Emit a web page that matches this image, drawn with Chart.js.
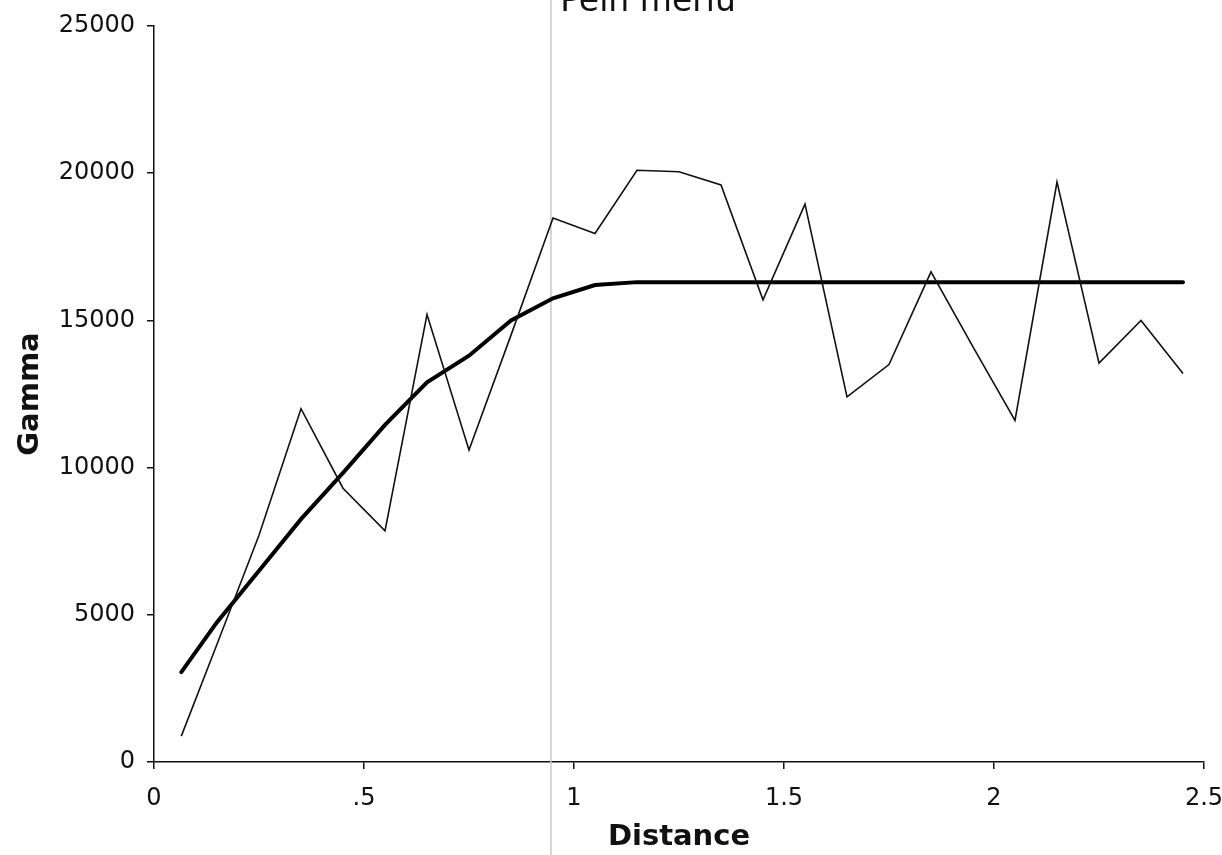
<!DOCTYPE html>
<html>
<head>
<meta charset="utf-8">
<script src="https://cdn.jsdelivr.net/npm/chart.js@4.4.1/dist/chart.umd.min.js"></script>
<style>
  html, body { margin: 0; padding: 0; background: #fff; }
  #wrap { width: 1222px; height: 855px; }
</style>
</head>
<body>
<div id="wrap"><canvas id="gammaChart"></canvas></div>
<script>
// lag distances of the experimental variogram
const distances = [0.065, 0.15, 0.25, 0.35, 0.45, 0.55, 0.65, 0.75, 0.85, 0.95,
    1.05, 1.15, 1.25, 1.35, 1.45, 1.55, 1.65, 1.75, 1.85, 1.95,
    2.05, 2.15, 2.25, 2.35, 2.45];

// experimental gamma values
const gammaObserved = [880, 4000, 7700, 12000, 9300, 7850, 15200, 10600, 14500, 18480,
    17950, 20100, 20050, 19600, 15700, 18950, 12400, 13500, 16650, 14100,
    11600, 19700, 13550, 15000, 13200];

// fitted model
const gammaModel = [3050, 4750, 6500, 8250, 9820, 11450, 12900, 13800, 15000, 15750,
    16200, 16300, 16300, 16300, 16300, 16300, 16300, 16300, 16300, 16300,
    16300, 16300, 16300, 16300, 16300];

const xTicks = [0, 0.5, 1, 1.5, 2, 2.5];
const yTicks = [0, 5000, 10000, 15000, 20000, 25000];
const titleText = 'Pelh meriu';
const markerDistance = 0.945;

const toPoints = (vals) => distances.map((d, i) => ({ x: d, y: vals[i] }));

// vertical marker line and the title at the top edge
const extras = {
    id: 'extras',
    beforeDatasetsDraw(chart) {
        const ctx = chart.ctx;
        const x = chart.scales.x.getPixelForValue(markerDistance);
        ctx.save();
        ctx.strokeStyle = '#c8c8c8';
        ctx.lineWidth = 1.5;
        ctx.beginPath();
        ctx.moveTo(x, 0);
        ctx.lineTo(x, chart.height);
        ctx.stroke();
        ctx.restore();
    },
    afterDraw(chart) {
        const ctx = chart.ctx;
        ctx.save();
        ctx.fillStyle = '#111';
        ctx.font = '33px "DejaVu Sans"';
        ctx.textAlign = 'center';
        ctx.textBaseline = 'alphabetic';
        ctx.fillText(titleText, 648, 11);
        ctx.restore();
    }
};

new Chart(document.getElementById('gammaChart'), {
    type: 'line',
    data: {
        datasets: [
            {
                label: 'Observed',
                data: toPoints(gammaObserved),
                borderColor: '#111',
                borderWidth: 1.6,
                pointRadius: 0,
                tension: 0
            },
            {
                label: 'Model',
                data: toPoints(gammaModel),
                borderColor: '#000',
                borderWidth: 4,
                pointRadius: 0,
                tension: 0,
                borderCapStyle: 'round'
            }
        ]
    },
    options: {
        responsive: true,
        maintainAspectRatio: false,
        animation: false,
        layout: { padding: { top: 26, right: 18, left: 0, bottom: 0 } },
        plugins: {
            legend: { display: false },
            tooltip: { enabled: false }
        },
        scales: {
            x: {
                type: 'linear',
                min: 0,
                max: 2.5,
                afterBuildTicks: (scale) => { scale.ticks = xTicks.map(v => ({ value: v })); },
                afterFit: (scale) => {
                    scale.height = 93;
                    scale.paddingLeft = 0;
                    scale.paddingRight = 0;
                },
                border: { display: true, color: '#111', width: 1.5 },
                grid: { drawOnChartArea: false, drawTicks: true, tickLength: 7, color: '#111', lineWidth: 1.5 },
                ticks: {
                    color: '#111',
                    padding: 15,
                    maxRotation: 0,
                    font: { family: '"DejaVu Sans"', size: 24 },
                    callback: (v) => (v > 0 && v < 1) ? String(v).replace(/^0/, '') : String(v)
                },
                title: {
                    display: true,
                    text: 'Distance',
                    color: '#111',
                    font: { family: '"DejaVu Sans"', size: 29, weight: 'bold' },
                    padding: { top: 0, bottom: 0 }
                }
            },
            y: {
                min: 0,
                max: 25000,
                afterBuildTicks: (scale) => { scale.ticks = yTicks.map(v => ({ value: v })); },
                afterFit: (scale) => {
                    scale.width = 154;
                    scale.paddingTop = 0;
                    scale.paddingBottom = 0;
                },
                border: { display: true, color: '#111', width: 1.5 },
                grid: { drawOnChartArea: false, drawTicks: true, tickLength: 7, color: '#111', lineWidth: 1.5 },
                ticks: {
                    color: '#111',
                    padding: 12,
                    font: { family: '"DejaVu Sans"', size: 24 },
                    callback: (v) => String(v)
                },
                title: {
                    display: true,
                    text: 'Gamma',
                    color: '#111',
                    font: { family: '"DejaVu Sans"', size: 29, weight: 'bold' },
                    padding: { top: 13, bottom: 0 }
                }
            }
        }
    },
    plugins: [extras]
});
</script>
</body>
</html>
